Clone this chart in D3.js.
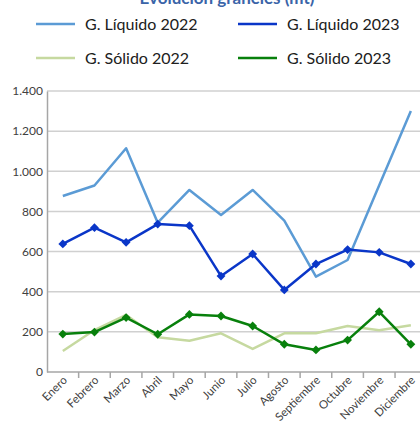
<!DOCTYPE html>
<html>
<head>
<meta charset="utf-8">
<script src="https://cdn.jsdelivr.net/npm/d3@7"></script>
<style>
  body { margin: 0; background: #fff; }
  svg { display: block; }
  text { font-family: Lato, "DejaVu Sans", sans-serif; }
</style>
</head>
<body>
<div id="chart"></div>
<script>
// months on the x axis
var months = ["Enero", "Febrero", "Marzo", "Abril", "Mayo", "Junio", "Julio",
              "Agosto", "Septiembre", "Octubre", "Noviembre", "Diciembre"];

// values (mt)
var liquido2022 = [877, 929, 1115, 744, 907, 782, 907, 754, 475, 558, 930, 1300];
var liquido2023 = [638, 719, 646, 737, 729, 478, 588, 409, 538, 610, 596, 538];
var solido2022  = [105, 209, 284, 173, 156, 193, 115, 193, 193, 229, 208, 233];
var solido2023  = [189, 199, 271, 188, 287, 279, 229, 138, 110, 159, 300, 138];

var yTicks = [0, 200, 400, 600, 800, 1000, 1200, 1400];

var series = [
  {name: "G. Líquido 2022", values: liquido2022, color: "#5b9bd5", marker: false},
  {name: "G. Líquido 2023", values: liquido2023, color: "#0a36c8", marker: true},
  {name: "G. Sólido 2022",  values: solido2022,  color: "#c6d9a0", marker: false},
  {name: "G. Sólido 2023",  values: solido2023,  color: "#08800c", marker: true}
];

var width = 420, height = 425;

var svg = d3.select("#chart").append("svg")
  .attr("width", width)
  .attr("height", height);

// title, mostly cut off at the top
svg.append("text")
  .attr("x", 227)
  .attr("y", 4)
  .attr("text-anchor", "middle")
  .attr("font-weight", "bold")
  .attr("font-size", 17)
  .attr("fill", "#3a64a8")
  .text("Evolución graneles (mt)");

// scales
var x = d3.scaleBand().domain(months).range([47, 47 + 12 * 31.64]);
var y = d3.scaleLinear().domain([0, 1400]).range([372, 91]);
var cx = function(m) { return x(m) + x.bandwidth() / 2; };

// gridlines
svg.append("g").selectAll("line")
  .data(yTicks.filter(d => d > 0))
  .enter().append("line")
  .attr("x1", 47).attr("x2", width)
  .attr("y1", d => y(d)).attr("y2", d => y(d))
  .attr("stroke", "#d0d0d0")
  .attr("stroke-width", 1.5);

// y axis
var loc = d3.formatLocale({decimal: ",", thousands: ".", grouping: [3], currency: ["", ""]});
var yAxis = d3.axisLeft(y).tickValues(yTicks).tickFormat(loc.format(",d")).tickSize(0).tickPadding(4);
var gy = svg.append("g").attr("transform", "translate(47,0)").call(yAxis);
gy.select(".domain").attr("stroke", "#a6a6a6").attr("stroke-width", 1.5);
gy.selectAll("text").attr("font-size", 12).attr("fill", "#404040").attr("font-family", "Lato, sans-serif");

// x axis line and tick marks between categories
svg.append("line")
  .attr("x1", 47).attr("x2", width)
  .attr("y1", y(0)).attr("y2", y(0))
  .attr("stroke", "#a6a6a6").attr("stroke-width", 1.5);

svg.append("g").selectAll("line")
  .data(months.slice(1))
  .enter().append("line")
  .attr("x1", d => x(d)).attr("x2", d => x(d))
  .attr("y1", y(0)).attr("y2", y(0) + 6)
  .attr("stroke", "#a6a6a6").attr("stroke-width", 1.5);

svg.append("g").selectAll("text")
  .data(months)
  .enter().append("text")
  .attr("transform", d => "translate(" + (cx(d) + 5) + "," + (y(0) + 9) + ") rotate(-45)")
  .attr("text-anchor", "end")
  .attr("font-size", 11.5)
  .attr("fill", "#404040")
  .text(d => d);

// lines
var line = d3.line()
  .x((d, i) => cx(months[i]))
  .y(d => y(d));

series.forEach(function(s) {
  svg.append("path")
    .datum(s.values)
    .attr("d", line)
    .attr("fill", "none")
    .attr("stroke", s.color)
    .attr("stroke-width", 2.5)
    .attr("stroke-linejoin", "round");

  if (s.marker) {
    svg.append("g").selectAll("path")
      .data(s.values)
      .enter().append("path")
      .attr("d", d3.symbol().type(d3.symbolDiamond2).size(50))
      .attr("transform", (d, i) => "translate(" + cx(months[i]) + "," + y(d) + ")")
      .attr("fill", s.color);
  }
});

// legend
var legend = svg.append("g");
series.forEach(function(s, i) {
  var lx = (i % 2) * 202 + 36;
  var ly = Math.floor(i / 2) * 34 + 24;
  legend.append("line")
    .attr("x1", lx).attr("x2", lx + 39)
    .attr("y1", ly).attr("y2", ly)
    .attr("stroke", s.color).attr("stroke-width", 2.5);
  legend.append("text")
    .attr("x", lx + 49).attr("y", ly + 6)
    .attr("font-size", 16)
    .attr("fill", "#202020")
    .text(s.name);
});
</script>
</body>
</html>
